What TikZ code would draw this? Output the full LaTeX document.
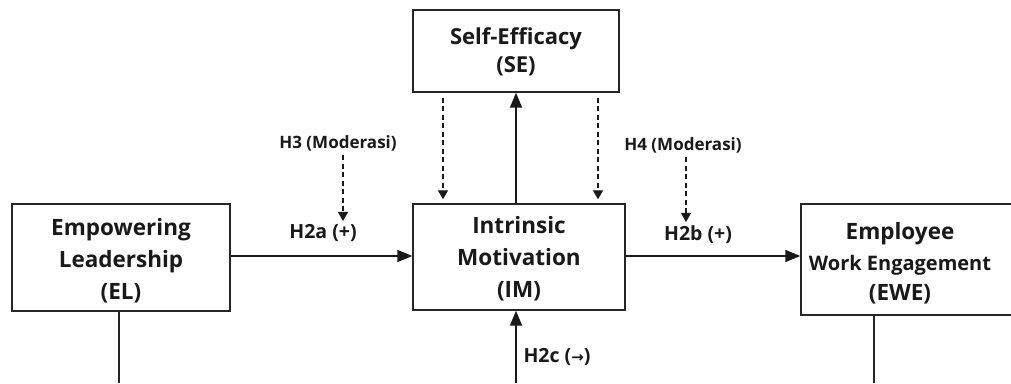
\documentclass[tikz,border=0pt]{standalone}
\usepackage{fontspec}
\setmainfont{Open Sans}
\usetikzlibrary{arrows.meta}

\tikzset{
  box/.style={draw=black!85, line width=1.4pt, fill=white, inner sep=0pt, align=center},
  boxtext/.style={font=\bfseries\fontsize{22.5}{32}\selectfont, align=center, text=black!90},
  hyp/.style={font=\bfseries\fontsize{19.5}{22}\selectfont, text=black!90},
  modlabel/.style={font=\bfseries\fontsize{17}{20}\selectfont, text=black!90},
  mainarrow/.style={line width=1.8pt, draw=black!90, -{Triangle[length=15pt,width=12pt]}},
  modarrow/.style={line width=1.3pt, draw=black!90, dash pattern=on 5pt off 3.5pt, -{Triangle[length=9pt,width=10pt]}},
  plainline/.style={line width=1.4pt, draw=black!85}
}

\begin{document}
\begin{tikzpicture}[x=1pt,y=1pt]
  \useasboundingbox (0,0) rectangle (1011,383);
  \clip (0,0) rectangle (1011,383);

  % construct boxes
  \node[box, minimum width=218pt, minimum height=107pt] (EL) at (121,125.5) {};
  \node[boxtext] (ELtext) at (121,122) {Empowering\\Leadership\\(EL)};

  \node[box, minimum width=212pt, minimum height=106pt] (IM) at (519,126) {};
  \node[boxtext] (IMtext) at (519,124) {Intrinsic\\Motivation\\(IM)};

  \node[box, minimum width=206pt, minimum height=82pt] (SE) at (516,332) {};
  \node[boxtext, font=\bfseries\fontsize{22}{28}\selectfont] (SEtext) at (516,331) {Self-Efficacy\\(SE)};

  \node[box, minimum width=229pt, minimum height=111pt] (EWE) at (915.5,123.5) {};
  \node[boxtext, align=center] (EWEtext) at (900,120)
    {Employee\\[-1pt]{\fontsize{20}{22}\selectfont Work Engagement}\\[-2pt](EWE)};

  % free ends at the lower edge
  \coordinate (ELfoot) at (119,0);
  \coordinate (IMfoot) at (516,0);
  \coordinate (EWEfoot) at (874,0);

  % direct paths
  \draw[mainarrow] (EL.east |- 0,127) -- (IM.west |- 0,127);
  \draw[mainarrow] (IM.east |- 0,127) -- (EWE.west |- 0,127);
  \draw[mainarrow] (IM.north -| IMfoot) -- (SE.south -| IMfoot);
  \draw[mainarrow] (IMfoot) -- (IM.south -| IMfoot);
  \draw[plainline] (EL.south -| ELfoot) -- (ELfoot);
  \draw[plainline] (EWE.south -| EWEfoot) -- (EWEfoot);

  % hypothesis labels
  \node[hyp] (H2a) at (323,150) {H2a (+)};
  \node[hyp] (H2b) at (698,148) {H2b (+)};
  \node[hyp, anchor=west] (H2c) at (520,26) {H2c ({\fontspec{DejaVu Sans}\fontsize{15}{16}\selectfont →})};

  % moderation labels and arrows
  \node[modlabel] (H3) at (338,240) {H3 (Moderasi)};
  \node[modlabel] (H4) at (683,238) {H4 (Moderasi)};
  \coordinate (H3tip) at (343,162);
  \coordinate (H4tip) at (686,161);
  \draw[modarrow] (H3.south -| H3tip) ++(0,-1) -- (H3tip);
  \draw[modarrow] (H4.south -| H4tip) ++(0,-1) -- (H4tip);

  % self-efficacy moderation onto intrinsic motivation
  \coordinate (SEleft) at (443,0);
  \coordinate (SEright) at (598,0);
  \draw[modarrow] ([yshift=-5pt]SE.south -| SEleft) -- ([yshift=4pt]IM.north -| SEleft);
  \draw[modarrow] ([yshift=-5pt]SE.south -| SEright) -- ([yshift=4pt]IM.north -| SEright);
\end{tikzpicture}
\end{document}
